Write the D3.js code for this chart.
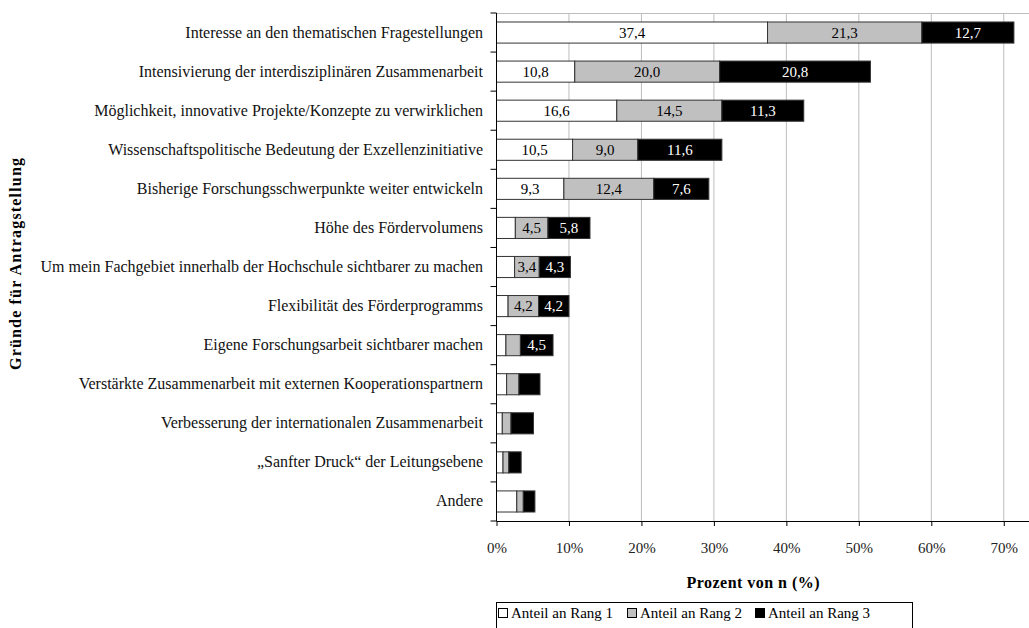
<!DOCTYPE html>
<html>
<head>
<meta charset="utf-8">
<script src="https://cdn.jsdelivr.net/npm/d3@7"></script>
<style>
  body { margin: 0; background: #fff; }
  text { font-family: "Liberation Serif", "DejaVu Serif", serif; }
</style>
</head>
<body>
<div id="chart"></div>
<script>
// categories, top to bottom
var categories = [
  "Interesse an den thematischen Fragestellungen",
  "Intensivierung der interdisziplinären Zusammenarbeit",
  "Möglichkeit, innovative Projekte/Konzepte zu verwirklichen",
  "Wissenschaftspolitische Bedeutung der Exzellenzinitiative",
  "Bisherige Forschungsschwerpunkte weiter entwickeln",
  "Höhe des Fördervolumens",
  "Um mein Fachgebiet innerhalb der Hochschule sichtbarer zu machen",
  "Flexibilität des Förderprogramms",
  "Eigene Forschungsarbeit sichtbarer machen",
  "Verstärkte Zusammenarbeit mit externen Kooperationspartnern",
  "Verbesserung der internationalen Zusammenarbeit",
  "\u201ESanfter Druck\u201C der Leitungsebene",
  "Andere"
];
var rang1 = [37.4, 10.8, 16.6, 10.5, 9.3, 2.6, 2.5, 1.6, 1.3, 1.4, 0.8, 0.9, 2.8];
var rang2 = [21.3, 20.0, 14.5, 9.0, 12.4, 4.5, 3.4, 4.2, 2.0, 1.7, 1.2, 0.8, 0.9];
var rang3 = [12.7, 20.8, 11.3, 11.6, 7.6, 5.8, 4.3, 4.2, 4.5, 2.9, 3.1, 1.7, 1.6];
var seriesNames = ["Anteil an Rang 1", "Anteil an Rang 2", "Anteil an Rang 3"];
var xTicks = [0, 10, 20, 30, 40, 50, 60, 70];

var width = 1029, height = 628;
var fills = ["#ffffff", "#c0c0c0", "#000000"];
var textFill = ["#000", "#000", "#fff"];

var svg = d3.select("#chart").append("svg")
  .attr("width", width)
  .attr("height", height);

var x = d3.scaleLinear().domain([0, 75]).range([496.5, 1040]);
var y = d3.scaleBand().domain(categories).range([13, 521])
  .paddingInner(0.46).paddingOuter(0.23);

var rows = categories.map(function(c, i) {
  return { cat: c, Rang1: rang1[i], Rang2: rang2[i], Rang3: rang3[i] };
});
var stack = d3.stack().keys(["Rang1", "Rang2", "Rang3"]);
var stacked = stack(rows);

// grid
svg.append("g").selectAll("line.grid")
  .data(xTicks.slice(1))
  .enter().append("line")
  .attr("x1", function(d) { return x(d); })
  .attr("x2", function(d) { return x(d); })
  .attr("y1", 13).attr("y2", 521)
  .attr("stroke", "#bdbdbd").attr("stroke-width", 1);
svg.append("line")
  .attr("x1", x(0)).attr("x2", width)
  .attr("y1", 13.5).attr("y2", 13.5)
  .attr("stroke", "#bdbdbd");

// bars
var layers = svg.selectAll("g.layer")
  .data(stacked)
  .enter().append("g")
  .attr("class", "layer");

layers.selectAll("rect")
  .data(function(d) { return d; })
  .enter().append("rect")
  .attr("x", function(d) { return x(d[0]); })
  .attr("y", function(d) { return y(d.data.cat); })
  .attr("width", function(d) { return x(d[1]) - x(d[0]); })
  .attr("height", y.bandwidth())
  .attr("fill", function() { return fills[d3.select(this.parentNode).datum().index]; })
  .attr("stroke", "#333")
  .attr("stroke-width", 1);

// value labels inside the segments
layers.selectAll("text")
  .data(function(d) { return d; })
  .enter().append("text")
  .filter(function(d) { return d[1] - d[0] > 3.3; })
  .attr("x", function(d) { return (x(d[0]) + x(d[1])) / 2; })
  .attr("y", function(d) { return y(d.data.cat) + y.bandwidth() / 2 + 5; })
  .attr("text-anchor", "middle")
  .style("font-size", "15px")
  .attr("fill", function() { return textFill[d3.select(this.parentNode).datum().index]; })
  .text(function(d) { return d3.format(".1f")(d[1] - d[0]).replace(".", ","); });

// y axis
var yAxis = svg.append("g");
yAxis.append("line")
  .attr("x1", x(0)).attr("x2", x(0))
  .attr("y1", 13).attr("y2", 521)
  .attr("stroke", "#000");
var bounds = categories.map(function(c) { return y(c) - y.step() * 0.23; });
bounds.push(521);
yAxis.selectAll("line.tick")
  .data(bounds)
  .enter().append("line")
  .attr("x1", x(0) - 6).attr("x2", x(0))
  .attr("y1", function(d) { return d; })
  .attr("y2", function(d) { return d; })
  .attr("stroke", "#000");
yAxis.selectAll("text")
  .data(categories)
  .enter().append("text")
  .attr("x", 483)
  .attr("y", function(d) { return y(d) + y.bandwidth() / 2 + 5; })
  .attr("text-anchor", "end")
  .style("font-size", "16px")
  .attr("fill", "#111")
  .text(function(d) { return d; });

// x axis
var xAxis = svg.append("g")
  .attr("transform", "translate(0,521)")
  .call(d3.axisBottom(x).tickValues(xTicks).tickSize(5).tickPadding(16)
    .tickFormat(function(d) { return d + "%"; }));
xAxis.select(".domain").attr("d", "M" + x(0) + ",0.5H" + width);
xAxis.selectAll("text")
  .style("font-size", "15px")
  .style("font-family", "'Liberation Serif', serif")
  .attr("fill", "#222");

// axis titles
svg.append("text")
  .attr("x", 753).attr("y", 588)
  .attr("text-anchor", "middle")
  .style("font-size", "16px")
  .attr("font-weight", "bold")
  .attr("textLength", 133)
  .text("Prozent von n (%)");

svg.append("text")
  .attr("transform", "translate(21,264)rotate(-90)")
  .attr("text-anchor", "middle")
  .style("font-size", "16px")
  .attr("font-weight", "bold")
  .attr("textLength", 212)
  .text("Gründe für Antragstellung");

// legend
var legend = svg.append("g");
legend.append("rect")
  .attr("x", 496.5).attr("y", 602.5)
  .attr("width", 416).attr("height", 40)
  .attr("fill", "#fff").attr("stroke", "#000");
var legendX = [498, 627, 755];
var items = legend.selectAll("g.item")
  .data(seriesNames)
  .enter().append("g")
  .attr("class", "item")
  .attr("transform", function(d, i) { return "translate(" + legendX[i] + ",0)"; });
items.append("rect")
  .attr("x", 0.5).attr("y", 608.5)
  .attr("width", 9).attr("height", 9)
  .attr("fill", function(d, i) { return fills[i]; })
  .attr("stroke", "#000");
items.append("text")
  .attr("x", 13).attr("y", 618)
  .style("font-size", "15px")
  .text(function(d) { return d; });
</script>
</body>
</html>
